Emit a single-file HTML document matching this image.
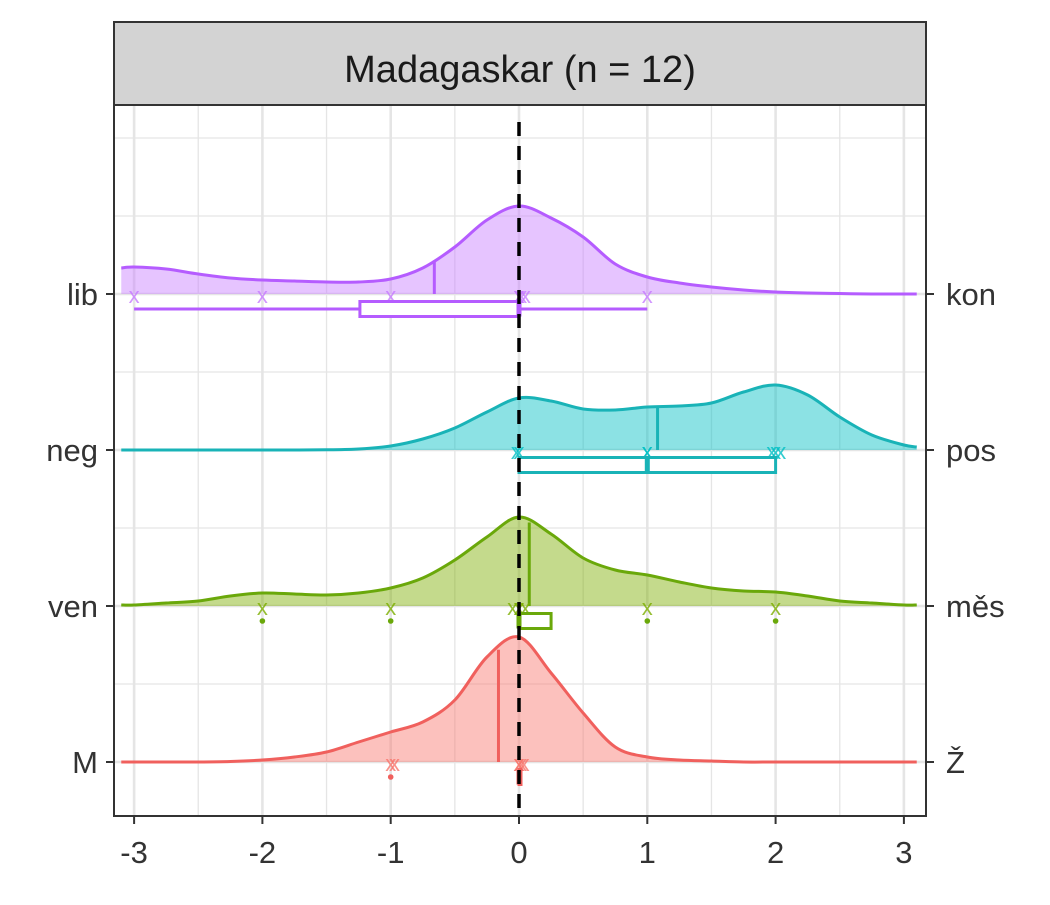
<!DOCTYPE html>
<html><head><meta charset="utf-8"><style>
body{margin:0;background:#fff}
svg text{font-family:"Liberation Sans","DejaVu Sans",sans-serif}
</style></head><body>
<svg id="chart" width="1050" height="900" viewBox="0 0 1050 900" xmlns="http://www.w3.org/2000/svg">
<rect width="1050" height="900" fill="#fff"/>
<g id="grid"></g>
<g id="marks"></g>
<rect x="114" y="105" width="812" height="711" fill="none" stroke="#333" stroke-width="2"/>
<rect x="114" y="22" width="812" height="83" fill="#D3D3D3" stroke="#333" stroke-width="2"/>
<text x="520" y="82" font-size="38" text-anchor="middle" fill="#1a1a1a">Madagaskar (n = 12)</text>
<g id="axes"></g>
</svg>
<script>
const xTicks=[-3,-2,-1,0,1,2,3];
const leftLabels=["lib","neg","ven","M"];
const rightLabels=["kon","pos","měs","Ž"];
const gridX=[-3.1,-3,-2.75,-2.5,-2.25,-2,-1.75,-1.5,-1.25,-1,-0.75,-0.5,-0.25,0,0.25,0.5,0.75,1,1.25,1.5,1.75,2,2.25,2.5,2.75,3,3.1];
const densLib=[26,27,25,20,16,14,13,12,12,15,26,47,74,88,76,57,30,17,11,7,4,2,1,0.5,0,0,0];
const densNeg=[0,0,0,0,0,0,0,0.2,1,4,11,22,38,52,49,41,40,43,44,47,58,65,55,33,15,5,3];
const densVen=[1,1,3,5,10,13,12,11,13,18,28,46,69,89,72,48,36,31,24,18,15,14,10,5,3,1,1];
const densM=[0,0,0,0,0.5,2,5,10,20,30,40,62,105,125,89,49,15,5,2,1,0,0,0,0,0,0,0];
const medians=[-0.66,1.08,0.08,-0.16];
const ptsLib=[-3,-2,-1,0,0,0.02,0.05,1];
const ptsNeg=[-0.02,0,1,1,1.97,2,2.04];
const ptsVen=[-2,-1,-0.05,0,0.05,1,2];
const ptsM=[-1,-0.97,0,0,0.02,0.04];
const boxQ1=[-1.24,0,0,0];
const boxMed=[0,1,0,0];
const boxQ3=[0,2,0.25,0];
const whiskLo=[-3,0,0,0];
const whiskHi=[1,2,0.25,0];
const outliers=[[],[],[-2,-1,1,2],[-1]];
const strokes=["#B55CFF","#19B3B7","#6AA80A","#F0605D"];
const fills=["#C77CFF","#00BFC4","#7CAE00","#F8766D"];
const dens=[densLib,densNeg,densVen,densM];
const pts=[ptsLib,ptsNeg,ptsVen,ptsM];

const NS="http://www.w3.org/2000/svg";
const X=v=>519+v*128.3;
const rowY=i=>294+i*156;
function mk(p,tag,at){const e=document.createElementNS(NS,tag);for(const k in at)e.setAttribute(k,at[k]);p.appendChild(e);return e;}
const grid=document.getElementById('grid'),marks=document.getElementById('marks'),axes=document.getElementById('axes');
for(let v=-3;v<=3.01;v+=0.5){const major=Math.abs(v-Math.round(v))<0.01;
 const l=mk(grid,'line',{x1:X(v),x2:X(v),y1:106,y2:816,stroke:'#E5E5E5','stroke-width':major?2.6:1.3});
 
 }
[138,216,294,372,450,528,606,684,762].forEach((y,k)=>{const major=(k%2==0)&&k>=2;
 const l=mk(grid,'line',{x1:114,x2:926,y1:y,y2:y,stroke:'#E5E5E5','stroke-width':major?2.6:1.3});
 
 });
function smooth(P){let d='M'+P[0][0]+','+P[0][1];for(let i=0;i<P.length-1;i++){const p0=P[Math.max(i-1,0)],p1=P[i],p2=P[i+1],p3=P[Math.min(i+2,P.length-1)];
 d+=' C'+(p1[0]+(p2[0]-p0[0])/6)+','+(p1[1]+(p2[1]-p0[1])/6)+' '+(p2[0]-(p3[0]-p1[0])/6)+','+(p2[1]-(p3[1]-p1[1])/6)+' '+p2[0]+','+p2[1];}return d;}
function interp(arr,v){for(let i=0;i<gridX.length-1;i++){if(v>=gridX[i]&&v<=gridX[i+1]){const t=(v-gridX[i])/(gridX[i+1]-gridX[i]);return arr[i]*(1-t)+arr[i+1]*t;}}return 0;}
for(let i=0;i<4;i++){
 const by=rowY(i),P=gridX.map((x,k)=>[X(x),by-dens[i][k]]);
 const line=smooth(P);
 const area=mk(marks,'path',{d:line+' L'+X(3.1)+','+by+' L'+X(-3.1)+','+by+' Z',fill:fills[i],'fill-opacity':0.45,stroke:'none'});
 
 
 const ml=mk(marks,'line',{x1:X(medians[i]),x2:X(medians[i]),y1:by,y2:by-interp(dens[i],medians[i]),stroke:strokes[i],'stroke-width':3});
 
 
 const dl=mk(marks,'path',{d:line,fill:'none',stroke:strokes[i],'stroke-width':3});
 
 
 pts[i].forEach(v=>{const g=mk(marks,'text',{x:X(v),y:by+9,'font-size':22,'text-anchor':'middle',fill:fills[i],'fill-opacity':0.8});g.textContent='x';
  
  });
 const cy=by+15,h=15;
 if(whiskHi[i]>whiskLo[i]){
  const w1=mk(marks,'line',{x1:X(whiskLo[i]),x2:X(boxQ1[i]),y1:cy,y2:cy,stroke:strokes[i],'stroke-width':3});
  
  const w2=mk(marks,'line',{x1:X(boxQ3[i]),x2:X(whiskHi[i]),y1:cy,y2:cy,stroke:strokes[i],'stroke-width':3});
  }
 const bw=Math.max(X(boxQ3[i])-X(boxQ1[i]),2);
 const b=mk(marks,'rect',{x:X(boxQ1[i]),y:cy-h/2,width:bw,height:h,fill:'#fff',stroke:strokes[i],'stroke-width':3});
 
 
 const bm=mk(marks,'line',{x1:X(boxMed[i]),x2:X(boxMed[i]),y1:cy-h/2,y2:cy+h/2,stroke:strokes[i],'stroke-width':5});
 
 outliers[i].forEach(v=>{const c=mk(marks,'circle',{cx:X(v),cy:cy,r:2.8,fill:strokes[i]});
  });
}
const ref=mk(marks,'line',{x1:X(0),x2:X(0),y1:122,y2:816,stroke:'#000','stroke-width':3.5,'stroke-dasharray':'14 10'});


xTicks.forEach(v=>{const t=mk(axes,'line',{x1:X(v),x2:X(v),y1:816,y2:824,stroke:'#333','stroke-width':2});
 
 const l=mk(axes,'text',{x:X(v),y:863,'font-size':31,'text-anchor':'middle',fill:'#333'});l.textContent=v;
 });
for(let i=0;i<4;i++){const y=rowY(i);
 const t1=mk(axes,'line',{x1:106,x2:114,y1:y,y2:y,stroke:'#333','stroke-width':2});
 
 const t2=mk(axes,'line',{x1:926,x2:934,y1:y,y2:y,stroke:'#333','stroke-width':2});
 
 const a=mk(axes,'text',{x:98,y:y+11,'font-size':31,'text-anchor':'end',fill:'#333'});a.textContent=leftLabels[i];
 
 const b=mk(axes,'text',{x:946,y:y+11,'font-size':31,'text-anchor':'start',fill:'#333'});b.textContent=rightLabels[i];
 }
</script>
</body></html>
